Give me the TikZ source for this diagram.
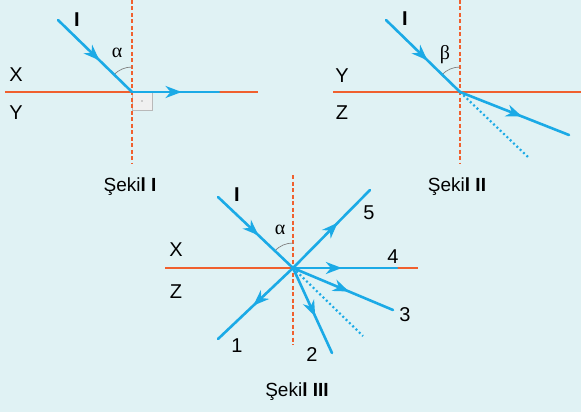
\documentclass[tikz,border=0pt]{standalone}
\usepackage{fontspec}
\setmainfont{Liberation Sans}
\newfontfamily\grk{Liberation Serif}
\usetikzlibrary{decorations.markings,arrows.meta}
\definecolor{bgc}{HTML}{E0F2F4}
\definecolor{raycol}{HTML}{1BAAE6}
\definecolor{surfcol}{HTML}{F0602E}
\tikzset{
  raypath/.style={raycol, line width=2.6pt, line cap=round, postaction={decorate},
    decoration={markings, mark=at position #1 with {\arrow[raycol]{Stealth[length=16pt,width=12pt,inset=5pt]}}}},
  raypath/.default=0.55,
  normalline/.style={surfcol, line width=1.1pt, dash pattern=on 4pt off 2.5pt},
  surfline/.style={surfcol, line width=1.3pt},
  dotray/.style={raycol, line width=2.2pt, dash pattern=on 2pt off 2.6pt},
  lbl/.style={font=\fontsize{20}{20}\selectfont, inner sep=0pt},
  blbl/.style={font=\fontsize{20}{20}\selectfont\bfseries, inner sep=0pt},
  grklbl/.style={font=\fontsize{20}{20}\selectfont\grk, inner sep=0pt},
  caption/.style={font=\fontsize{19}{19}\selectfont, inner sep=0pt},
  anglearc/.style={gray, line width=0.7pt},
  rightbox/.style={fill=gray!12, draw=gray!55, line width=0.8pt},
}
\begin{document}
\begin{tikzpicture}[x=1pt,y=-1pt]
\useasboundingbox[fill=bgc] (0,0) rectangle (581,412);

% ---------- Figure I ----------
\coordinate (O1) at (132,92);
\coordinate (I1) at (58,20);
\coordinate (R1) at (219,92);
\coordinate (NT1) at (132,0);
\coordinate (NB1) at (132,163);
\coordinate (SL1) at (5,92);
\coordinate (SR1) at (258,92);
\draw[rightbox] (132,92) rectangle (152,110);
\fill[gray!70] (142,101) circle (0.9pt);
\draw[normalline] (NT1) -- (NB1);
\draw[surfline] (SL1) -- (SR1);
\draw[anglearc] (132,67) arc[start angle=-90, end angle=-136, radius=25];
\draw[raypath=0.56] (I1) -- (O1);
\draw[raypath=0.57] (O1) -- (R1);
\node[blbl] (lI1) at (77,20) {I};
\node[grklbl] (la1) at (117,53) {α};
\node[lbl] (lX1) at (16,75) {X};
\node[lbl] (lY1) at (16,113) {Y};
\node[caption] (c1) at (130,187) {Şeki\textbf{l I}};

% ---------- Figure II ----------
\coordinate (O2) at (460,92);
\coordinate (I2) at (386,20);
\coordinate (R2) at (569,135);
\coordinate (D2) at (528,157);
\coordinate (NT2) at (460,0);
\coordinate (NB2) at (460,163);
\coordinate (SL2) at (333,92);
\coordinate (SR2) at (581,92);
\draw[normalline] (NT2) -- (NB2);
\draw[surfline] (SL2) -- (SR2);
\draw[anglearc] (460,67) arc[start angle=-90, end angle=-136, radius=25];
\draw[dotray] (O2) -- (D2);
\draw[raypath=0.56] (I2) -- (O2);
\draw[raypath=0.57] (O2) -- (R2);
\node[blbl] (lI2) at (405,19) {I};
\node[grklbl] (lb2) at (445,55) {β};
\node[lbl] (lY2) at (342,76) {Y};
\node[lbl] (lZ2) at (342,113) {Z};
\node[caption] (c2) at (457,187) {Şeki\textbf{l II}};

% ---------- Figure III ----------
\coordinate (O3) at (293,268);
\coordinate (I3) at (218,197);
\coordinate (R5) at (370,190);
\coordinate (R4) at (397,268);
\coordinate (R3) at (393,310);
\coordinate (R2b) at (332,353);
\coordinate (R1b) at (218,339);
\coordinate (D3) at (363,336);
\coordinate (NT3) at (293,175);
\coordinate (NB3) at (293,345);
\coordinate (SL3) at (165,268);
\coordinate (SR3) at (418,268);
\draw[normalline] (NT3) -- (NB3);
\draw[surfline] (SL3) -- (SR3);
\draw[anglearc] (293,243) arc[start angle=-90, end angle=-137, radius=25];
\draw[dotray] (O3) -- (D3);
\draw[raypath=0.54] (I3) -- (O3);
\draw[raypath=0.58] (O3) -- (R5);
\draw[raypath=0.47] (O3) -- (R4);
\draw[raypath=0.56] (O3) -- (R3);
\draw[raypath=0.57] (O3) -- (R2b);
\draw[raypath=0.53] (O3) -- (R1b);
\node[blbl] (lI3) at (237,195) {I};
\node[grklbl] (la3) at (280,230) {α};
\node[lbl] (lX3) at (176,250) {X};
\node[lbl] (lZ3) at (176,292) {Z};
\node[lbl] (n5) at (369,213) {5};
\node[lbl] (n4) at (393,257) {4};
\node[lbl] (n3) at (405,315) {3};
\node[lbl] (n2) at (312,355) {2};
\node[lbl] (n1) at (237,346) {1};
\node[caption] (c3) at (297,392) {Şeki\textbf{l III}};
\end{tikzpicture}
\end{document}
